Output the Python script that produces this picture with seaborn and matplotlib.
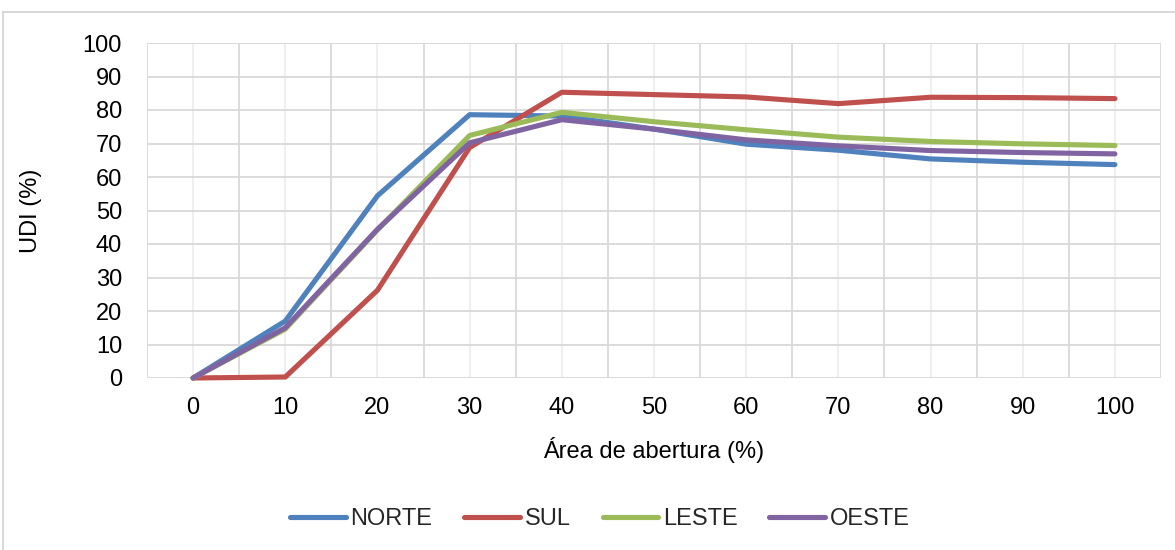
import matplotlib
matplotlib.use("Agg")
import matplotlib.pyplot as plt
import pandas as pd
import seaborn as sns
from matplotlib.patches import Rectangle
from matplotlib.ticker import FixedLocator, MultipleLocator

# UDI (%) by window-opening area for each facade orientation
abertura = [0, 10, 20, 30, 40, 50, 60, 70, 80, 90, 100]
norte = [0, 17.0, 54.4, 78.6, 78.2, 74.3, 69.8, 68.0, 65.4, 64.4, 63.7]
sul = [0, 0.3, 26.2, 68.8, 85.3, 84.6, 83.9, 81.9, 83.8, 83.7, 83.4]
leste = [0, 14.6, 44.2, 72.4, 79.3, 76.5, 74.1, 71.9, 70.6, 69.9, 69.4]
oeste = [0, 15.0, 44.4, 70.2, 77.1, 74.3, 71.1, 69.3, 67.9, 67.3, 66.9]
orientacoes = ["NORTE", "SUL", "LESTE", "OESTE"]
cores = ["#4F81BD", "#C0504D", "#9BBB59", "#8064A2"]

valores = {"NORTE": norte, "SUL": sul, "LESTE": leste, "OESTE": oeste}
linhas = []
for nome in orientacoes:
    for i, (a, v) in enumerate(zip(abertura, valores[nome])):
        linhas.append({"pos": i, "abertura": a, "UDI": v, "orientacao": nome})
df = pd.DataFrame(linhas)

sns.set_theme(style="white")
plt.rcParams["font.family"] = ["Liberation Sans", "DejaVu Sans"]
FS = 17

W, H = 1175, 550
fig = plt.figure(figsize=(W / 100, H / 100), dpi=100)
fig.patch.set_facecolor("white")

# light chart-area border
fig.patches.append(Rectangle((3 / W, -0.1), 1.2, 1 - 12 / H + 0.1,
                             transform=fig.transFigure, fill=False,
                             edgecolor="#d9d9d9", linewidth=1.5, zorder=0))

ax = fig.add_axes([147 / W, 1 - 378 / H, (1161 - 147) / W, (378 - 43) / H])

sns.lineplot(data=df, x="pos", y="UDI", hue="orientacao", hue_order=orientacoes,
             palette=cores, linewidth=3.7, ax=ax, legend=True, estimator=None,
             sort=False)
for ln in ax.lines:
    ln.set_solid_capstyle("round")
    ln.set_solid_joinstyle("round")
    ln.set_clip_on(False)

ax.set_xlim(-0.5, len(abertura) - 0.5)
ax.set_ylim(0, 100)
ax.yaxis.set_major_locator(MultipleLocator(10))
ax.xaxis.set_major_locator(FixedLocator(range(len(abertura))))
ax.set_xticklabels([str(a) for a in abertura])
ax.xaxis.set_minor_locator(FixedLocator([i - 0.5 for i in range(len(abertura) + 1)]))

ax.grid(which="major", axis="y", color="#d9d9d9", linewidth=1.3)
ax.grid(which="minor", axis="x", color="#d9d9d9", linewidth=1.3)
ax.grid(which="major", axis="x", color="#eeeeee", linewidth=1.3)
ax.set_axisbelow(True)
for s in ax.spines.values():
    s.set_visible(False)

ax.tick_params(axis="both", which="both", length=0, labelsize=FS, colors="black")
ax.tick_params(axis="y", pad=18)
ax.tick_params(axis="x", pad=14)

ax.set_xlabel("Área de abertura (%)", fontsize=FS, color="black")
ax.set_ylabel("UDI (%)", fontsize=FS, color="black")
ax.xaxis.set_label_coords(0.5, -(450 - 378) / (378 - 43))
ax.xaxis.label.set_va("center")
ax.yaxis.set_label_coords(-(147 - 31) / (1161 - 147), 0.5)
ax.yaxis.label.set_va("center")

handles, labels = ax.get_legend_handles_labels()
ax.get_legend().remove()
for h in handles:
    h.set_linewidth(3.7)
    h.set_solid_capstyle("round")
leg = fig.legend(handles, labels, loc="center", bbox_to_anchor=(600 / W, 1 - 519 / H),
                 ncol=4, frameon=False, fontsize=FS, handlelength=2.35,
                 handletextpad=0.2, columnspacing=1.35, borderaxespad=0)

fig.savefig("out.png", dpi=100, facecolor="white")
